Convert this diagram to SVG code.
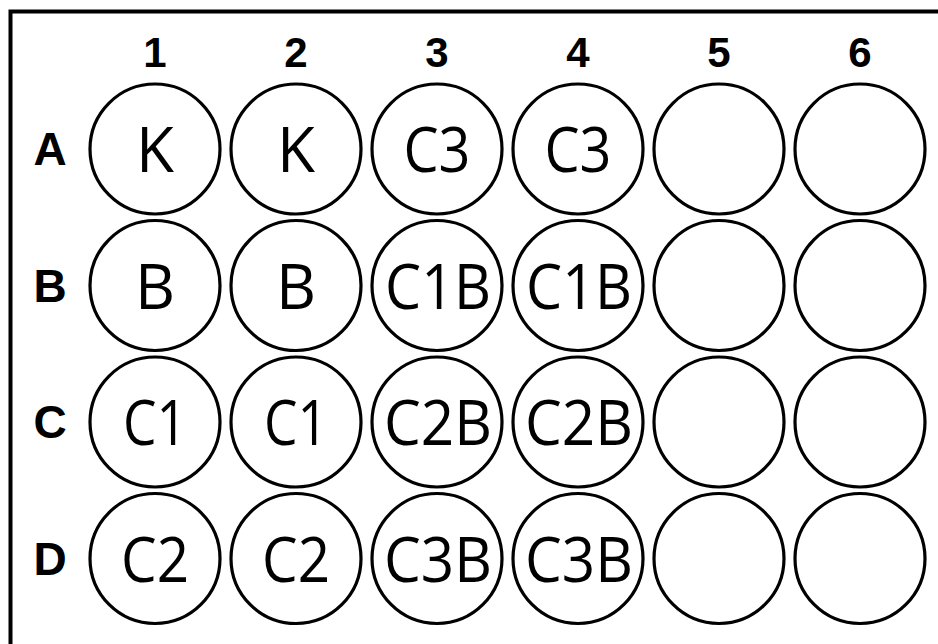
<svg xmlns="http://www.w3.org/2000/svg" width="938" height="644" viewBox="0 0 938 644">
<style>
.frame{fill:none;stroke:#000;stroke-width:4}
.well{fill:#fff;stroke:#000;stroke-width:3.2}
.hdr{font-family:"Liberation Sans",Arial,sans-serif;font-weight:bold;fill:#000;text-anchor:middle}
.col{font-size:42px}
.row{font-size:46px}
.lbl{font-family:"Open Sans","Noto Sans",sans-serif;font-size:62px;fill:#000;text-anchor:middle}
</style>
<rect width="938" height="644" fill="#fff"/>
<path class="frame" d="M10.5,644 V11.5 H938"/>
<g id="col-labels">
<text class="hdr col" x="155" y="67">1</text>
<text class="hdr col" x="296" y="67">2</text>
<text class="hdr col" x="437" y="67">3</text>
<text class="hdr col" x="578" y="67">4</text>
<text class="hdr col" x="719" y="67">5</text>
<text class="hdr col" x="860" y="67">6</text>
</g>
<g id="row-labels">
<text class="hdr row" x="50" y="165">A</text>
<text class="hdr row" x="50" y="302">B</text>
<text class="hdr row" x="50" y="438">C</text>
<text class="hdr row" x="50" y="575">D</text>
</g>
<g id="A1"><circle class="well" cx="155" cy="149" r="65"/><text class="lbl" x="155" y="172">K</text></g>
<g id="A2"><circle class="well" cx="296" cy="149" r="65"/><text class="lbl" x="296" y="172">K</text></g>
<g id="A3"><circle class="well" cx="437" cy="149" r="65"/><text class="lbl" x="437" y="172" textLength="67" lengthAdjust="spacingAndGlyphs">C3</text></g>
<g id="A4"><circle class="well" cx="578" cy="149" r="65"/><text class="lbl" x="578" y="172" textLength="67" lengthAdjust="spacingAndGlyphs">C3</text></g>
<g id="A5"><circle class="well" cx="719" cy="149" r="65"/></g>
<g id="A6"><circle class="well" cx="860" cy="149" r="65"/></g>
<g id="B1"><circle class="well" cx="155" cy="285.5" r="65"/><text class="lbl" x="155" y="309">B</text></g>
<g id="B2"><circle class="well" cx="296" cy="285.5" r="65"/><text class="lbl" x="296" y="309">B</text></g>
<g id="B3"><circle class="well" cx="437" cy="285.5" r="65"/><text class="lbl" x="438" y="309" textLength="106" lengthAdjust="spacingAndGlyphs">C1B</text></g>
<g id="B4"><circle class="well" cx="578" cy="285.5" r="65"/><text class="lbl" x="579" y="309" textLength="106" lengthAdjust="spacingAndGlyphs">C1B</text></g>
<g id="B5"><circle class="well" cx="719" cy="285.5" r="65"/></g>
<g id="B6"><circle class="well" cx="860" cy="285.5" r="65"/></g>
<g id="C1"><circle class="well" cx="155" cy="422" r="65"/><text class="lbl" x="155" y="445" textLength="64" lengthAdjust="spacingAndGlyphs">C1</text></g>
<g id="C2"><circle class="well" cx="296" cy="422" r="65"/><text class="lbl" x="296" y="445" textLength="64" lengthAdjust="spacingAndGlyphs">C1</text></g>
<g id="C3"><circle class="well" cx="437" cy="422" r="65"/><text class="lbl" x="438" y="445" textLength="108" lengthAdjust="spacingAndGlyphs">C2B</text></g>
<g id="C4"><circle class="well" cx="578" cy="422" r="65"/><text class="lbl" x="579" y="445" textLength="108" lengthAdjust="spacingAndGlyphs">C2B</text></g>
<g id="C5"><circle class="well" cx="719" cy="422" r="65"/></g>
<g id="C6"><circle class="well" cx="860" cy="422" r="65"/></g>
<g id="D1"><circle class="well" cx="155" cy="558.5" r="65"/><text class="lbl" x="155" y="582" textLength="68" lengthAdjust="spacingAndGlyphs">C2</text></g>
<g id="D2"><circle class="well" cx="296" cy="558.5" r="65"/><text class="lbl" x="296" y="582" textLength="68" lengthAdjust="spacingAndGlyphs">C2</text></g>
<g id="D3"><circle class="well" cx="437" cy="558.5" r="65"/><text class="lbl" x="438" y="582" textLength="108" lengthAdjust="spacingAndGlyphs">C3B</text></g>
<g id="D4"><circle class="well" cx="578" cy="558.5" r="65"/><text class="lbl" x="579" y="582" textLength="108" lengthAdjust="spacingAndGlyphs">C3B</text></g>
<g id="D5"><circle class="well" cx="719" cy="558.5" r="65"/></g>
<g id="D6"><circle class="well" cx="860" cy="558.5" r="65"/></g>
</svg>
